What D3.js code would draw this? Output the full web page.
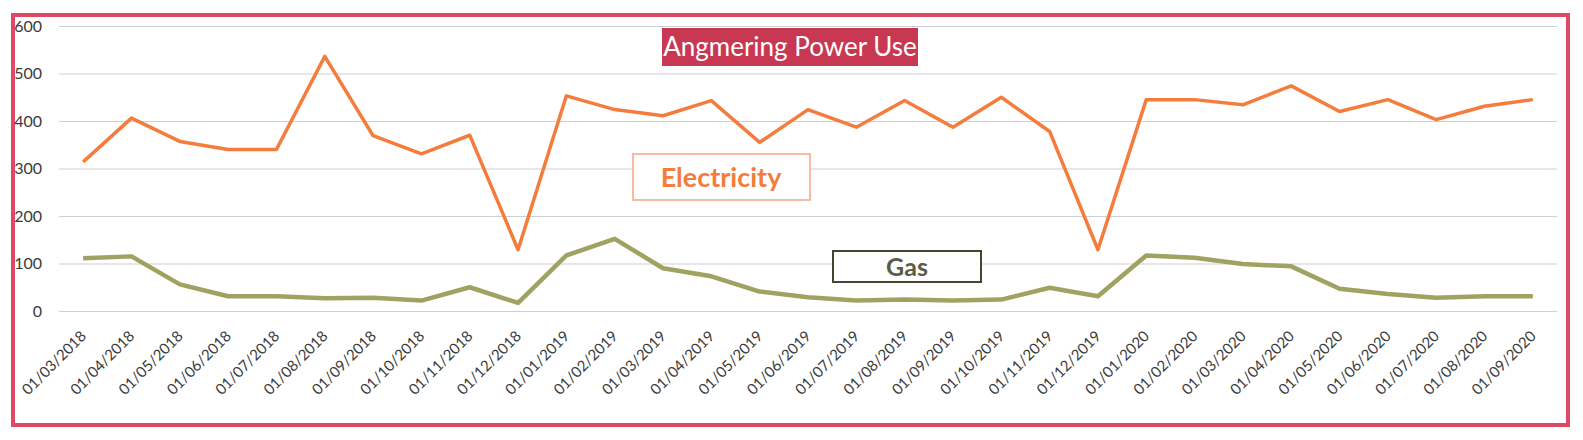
<!DOCTYPE html>
<html>
<head>
<meta charset="utf-8">
<script src="https://cdn.jsdelivr.net/npm/d3@7"></script>
<style>
  body { margin: 0; background: #fff; }
  text { font-family: Lato, "Open Sans", sans-serif; }
</style>
</head>
<body>
<div id="chart"></div>
<script>
// --- data ---
const dates = [
  "01/03/2018", "01/04/2018", "01/05/2018", "01/06/2018", "01/07/2018",
  "01/08/2018", "01/09/2018", "01/10/2018", "01/11/2018", "01/12/2018",
  "01/01/2019", "01/02/2019", "01/03/2019", "01/04/2019", "01/05/2019",
  "01/06/2019", "01/07/2019", "01/08/2019", "01/09/2019", "01/10/2019",
  "01/11/2019", "01/12/2019", "01/01/2020", "01/02/2020", "01/03/2020",
  "01/04/2020", "01/05/2020", "01/06/2020", "01/07/2020", "01/08/2020",
  "01/09/2020"
];
const electricity = [
  314, 406, 357, 340, 340, 536, 369, 331, 370, 129,
  453, 424, 411, 443, 355, 424, 387, 443, 387, 450,
  378, 129, 445, 445, 434, 474, 420, 445, 403, 431,
  445
];
const gas = [
  111, 115, 56, 31, 31, 27, 28, 22, 50, 17,
  117, 152, 90, 73, 41, 29, 22, 24, 22, 24,
  49, 31, 117, 112, 99, 94, 47, 36, 28, 31,
  31
];
const yTicks = [0, 100, 200, 300, 400, 500, 600];

const W = 1583, H = 440;
const plot = { left: 59, right: 1557, top: 26, bottom: 311 };

const svg = d3.select("#chart").append("svg")
  .attr("width", W)
  .attr("height", H);

// outer frame
svg.append("rect")
  .attr("x", 13).attr("y", 15)
  .attr("width", 1555).attr("height", 410)
  .attr("fill", "#fff")
  .attr("stroke", "#dc4a65")
  .attr("stroke-width", 4);

const x = d3.scaleBand()
  .domain(dates)
  .range([plot.left, plot.right])
  .padding(0);
const cx = d => x(d) + x.bandwidth() / 2;

const y = d3.scaleLinear()
  .domain([0, 600])
  .range([plot.bottom, plot.top]);

// y axis + gridlines
const yAxis = svg.append("g")
  .attr("transform", `translate(${plot.left},0)`)
  .call(d3.axisLeft(y)
    .tickValues(yTicks)
    .tickSize(-(plot.right - plot.left))
    .tickPadding(17));
yAxis.select(".domain").remove();
yAxis.selectAll(".tick line")
  .attr("stroke", "#cfcfd6")
  .attr("stroke-width", 1);
yAxis.selectAll(".tick text")
  .attr("fill", "#3a3a3a")
  .style("font-size", "16px")
  .style("font-family", "Lato, sans-serif");

// x axis, rotated labels
const xAxis = svg.append("g")
  .attr("transform", `translate(0,${plot.bottom})`)
  .call(d3.axisBottom(x).tickSize(0));
xAxis.select(".domain").remove();
xAxis.selectAll(".tick text")
  .attr("y", 0)
  .attr("dy", 0)
  .attr("text-anchor", "end")
  .attr("transform", "translate(4,26) rotate(-45)")
  .attr("fill", "#3a3a3a")
  .style("font-size", "15px")
  .style("font-family", "Lato, sans-serif");

// lines
const line = d3.line()
  .x((d, i) => cx(dates[i]))
  .y(d => y(d));

svg.append("path")
  .datum(gas)
  .attr("fill", "none")
  .attr("stroke", "#a0a262")
  .attr("stroke-width", 4.5)
  .attr("stroke-linejoin", "round")
  .attr("d", line);

svg.append("path")
  .datum(electricity)
  .attr("fill", "none")
  .attr("stroke", "#f47d3e")
  .attr("stroke-width", 3.5)
  .attr("stroke-linejoin", "round")
  .attr("d", line);

// title box
svg.append("rect")
  .attr("x", 662).attr("y", 28)
  .attr("width", 256).attr("height", 38)
  .attr("fill", "#c93852");
svg.append("text")
  .attr("x", 790).attr("y", 56)
  .attr("text-anchor", "middle")
  .attr("fill", "#fff")
  .style("font-size", "26px")
  .text("Angmering Power Use");

// series labels
svg.append("rect")
  .attr("x", 633).attr("y", 154)
  .attr("width", 177).attr("height", 46)
  .attr("fill", "#fff")
  .attr("stroke", "#f5bba3")
  .attr("stroke-width", 2);
svg.append("text")
  .attr("x", 721).attr("y", 187)
  .attr("text-anchor", "middle")
  .attr("fill", "#f47d3e")
  .style("font-size", "27px")
  .style("font-weight", "bold")
  .text("Electricity");

svg.append("rect")
  .attr("x", 833).attr("y", 251)
  .attr("width", 148).attr("height", 31)
  .attr("fill", "#fff")
  .attr("stroke", "#45452f")
  .attr("stroke-width", 2);
svg.append("text")
  .attr("x", 907).attr("y", 276)
  .attr("text-anchor", "middle")
  .attr("fill", "#5a5c48")
  .style("font-size", "25px")
  .style("font-weight", "bold")
  .text("Gas");
</script>
</body>
</html>
